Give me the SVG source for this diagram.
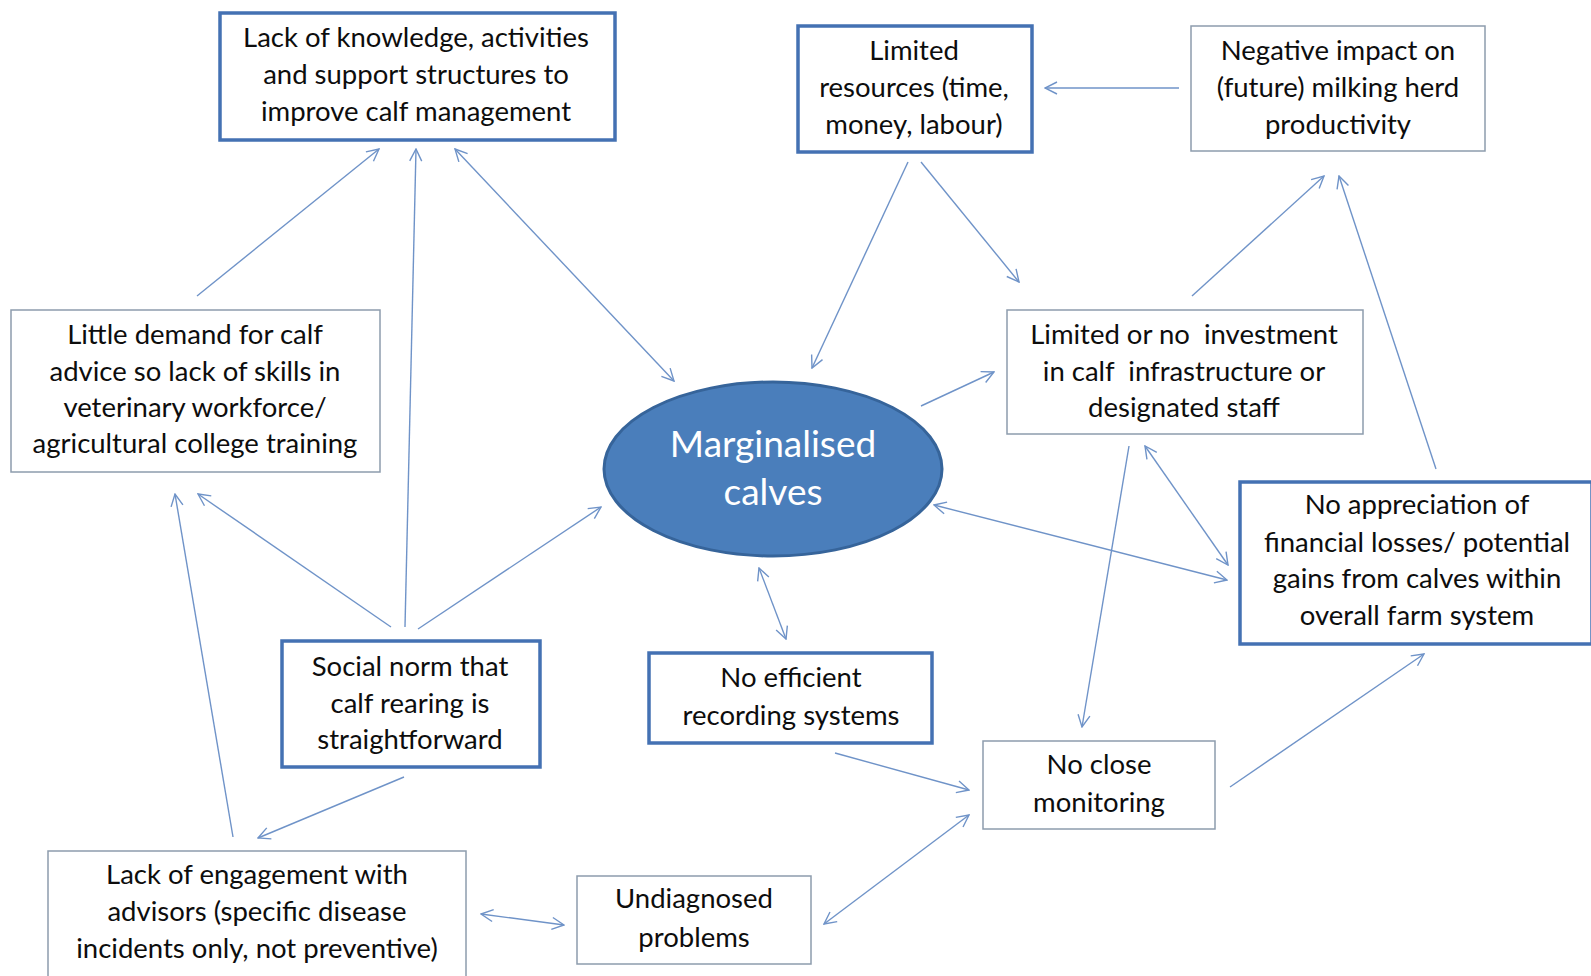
<svg xmlns="http://www.w3.org/2000/svg" width="1591" height="976" viewBox="0 0 1591 976">
<style>
.t{font-family:Lato,"Liberation Sans",sans-serif;font-size:27.5px;fill:#0d0d0d;text-anchor:middle;white-space:pre}
.w{font-family:Lato,"Liberation Sans",sans-serif;font-size:37px;fill:#ffffff;text-anchor:middle}
.bx{fill:#ffffff;stroke:#8d9cad;stroke-width:1.5}
.bk{fill:#ffffff;stroke:#4471b3;stroke-width:3.5}
.c line{stroke:#6f93c8;stroke-width:1.4;fill:none}
</style>
<defs>
<marker id="ah" viewBox="0 0 14 14" refX="13" refY="7" markerWidth="14" markerHeight="14" markerUnits="userSpaceOnUse" orient="auto-start-reverse">
<path d="M1,1 L13,7 L1,13" fill="none" stroke="#6f93c8" stroke-width="1.4"/>
</marker>
</defs>
<rect width="1591" height="976" fill="#ffffff"/>
<g class="c" id="connectors">
<line x1="197" y1="296" x2="379" y2="149" marker-end="url(#ah)"/>
<line x1="405" y1="627" x2="416" y2="149" marker-end="url(#ah)"/>
<line x1="455" y1="149" x2="674" y2="381" marker-start="url(#ah)" marker-end="url(#ah)"/>
<line x1="908" y1="162" x2="812" y2="368" marker-end="url(#ah)"/>
<line x1="921" y1="162" x2="1019" y2="282" marker-end="url(#ah)"/>
<line x1="1179" y1="88" x2="1045" y2="88" marker-end="url(#ah)"/>
<line x1="1192" y1="296" x2="1324" y2="176" marker-end="url(#ah)"/>
<line x1="1436" y1="469" x2="1339" y2="176" marker-end="url(#ah)"/>
<line x1="921" y1="406" x2="994" y2="372" marker-end="url(#ah)"/>
<line x1="391" y1="627" x2="198" y2="494" marker-end="url(#ah)"/>
<line x1="418" y1="629" x2="601" y2="507" marker-end="url(#ah)"/>
<line x1="233" y1="837" x2="175" y2="494" marker-end="url(#ah)"/>
<line x1="404" y1="777" x2="258" y2="838" marker-end="url(#ah)"/>
<line x1="759" y1="568" x2="786" y2="639" marker-start="url(#ah)" marker-end="url(#ah)"/>
<line x1="934" y1="505" x2="1227" y2="580" marker-start="url(#ah)" marker-end="url(#ah)"/>
<line x1="1145" y1="446" x2="1228" y2="565" marker-start="url(#ah)" marker-end="url(#ah)"/>
<line x1="1129" y1="446" x2="1082" y2="727" marker-end="url(#ah)"/>
<line x1="835" y1="753" x2="969" y2="790" marker-end="url(#ah)"/>
<line x1="1230" y1="787" x2="1424" y2="654" marker-end="url(#ah)"/>
<line x1="824" y1="924" x2="969" y2="815" marker-start="url(#ah)" marker-end="url(#ah)"/>
<line x1="481" y1="914" x2="564" y2="925" marker-start="url(#ah)" marker-end="url(#ah)"/>
</g>
<g id="knowledge">
<rect class="bk" x="220" y="13" width="395" height="127"/>
<text class="t" x="416" y="47">Lack of knowledge, activities</text>
<text class="t" x="416" y="84">and support structures to</text>
<text class="t" x="416" y="121">improve calf management</text>
</g>
<g id="resources">
<rect class="bk" x="798" y="26" width="234" height="126"/>
<text class="t" x="914" y="60">Limited</text>
<text class="t" x="914" y="97">resources (time,</text>
<text class="t" x="914" y="134">money, labour)</text>
</g>
<g id="negative">
<rect class="bx" x="1191" y="26" width="294" height="125"/>
<text class="t" x="1338" y="60">Negative impact on</text>
<text class="t" x="1338" y="97">(future) milking herd</text>
<text class="t" x="1338" y="134">productivity</text>
</g>
<g id="demand">
<rect class="bx" x="11" y="310" width="369" height="162"/>
<text class="t" x="195" y="344">Little demand for calf</text>
<text class="t" x="195" y="381">advice so lack of skills in</text>
<text class="t" x="195" y="417">veterinary workforce/</text>
<text class="t" x="195" y="453">agricultural college training</text>
</g>
<g id="marginalised">
<ellipse cx="773" cy="469" rx="169" ry="87" fill="#4a7ebb" stroke="#36649a" stroke-width="3"/>
<text class="w" x="773" y="457">Marginalised</text>
<text class="w" x="773" y="505">calves</text>
</g>
<g id="investment">
<rect class="bx" x="1007" y="310" width="356" height="124"/>
<text class="t" x="1184" y="344" xml:space="preserve">Limited or no  investment</text>
<text class="t" x="1184" y="381" xml:space="preserve">in calf  infrastructure or</text>
<text class="t" x="1184" y="417">designated staff</text>
</g>
<g id="appreciation">
<rect class="bk" x="1240" y="482" width="352" height="162"/>
<text class="t" x="1417" y="514">No appreciation of</text>
<text class="t" x="1417" y="552">financial losses/ potential</text>
<text class="t" x="1417" y="588">gains from calves within</text>
<text class="t" x="1417" y="625">overall farm system</text>
</g>
<g id="socialnorm">
<rect class="bk" x="282" y="641" width="258" height="126"/>
<text class="t" x="410" y="676">Social norm that</text>
<text class="t" x="410" y="713">calf rearing is</text>
<text class="t" x="410" y="749">straightforward</text>
</g>
<g id="recording">
<rect class="bk" x="649" y="653" width="283" height="90"/>
<text class="t" x="791" y="687">No efficient</text>
<text class="t" x="791" y="725">recording systems</text>
</g>
<g id="monitoring">
<rect class="bx" x="983" y="741" width="232" height="88"/>
<text class="t" x="1099" y="774">No close</text>
<text class="t" x="1099" y="812">monitoring</text>
</g>
<g id="engagement">
<rect class="bx" x="48" y="851" width="418" height="126"/>
<text class="t" x="257" y="884">Lack of engagement with</text>
<text class="t" x="257" y="921">advisors (specific disease</text>
<text class="t" x="257" y="958">incidents only, not preventive)</text>
</g>
<g id="undiagnosed">
<rect class="bx" x="577" y="876" width="234" height="88"/>
<text class="t" x="694" y="908">Undiagnosed</text>
<text class="t" x="694" y="947">problems</text>
</g>
</svg>
